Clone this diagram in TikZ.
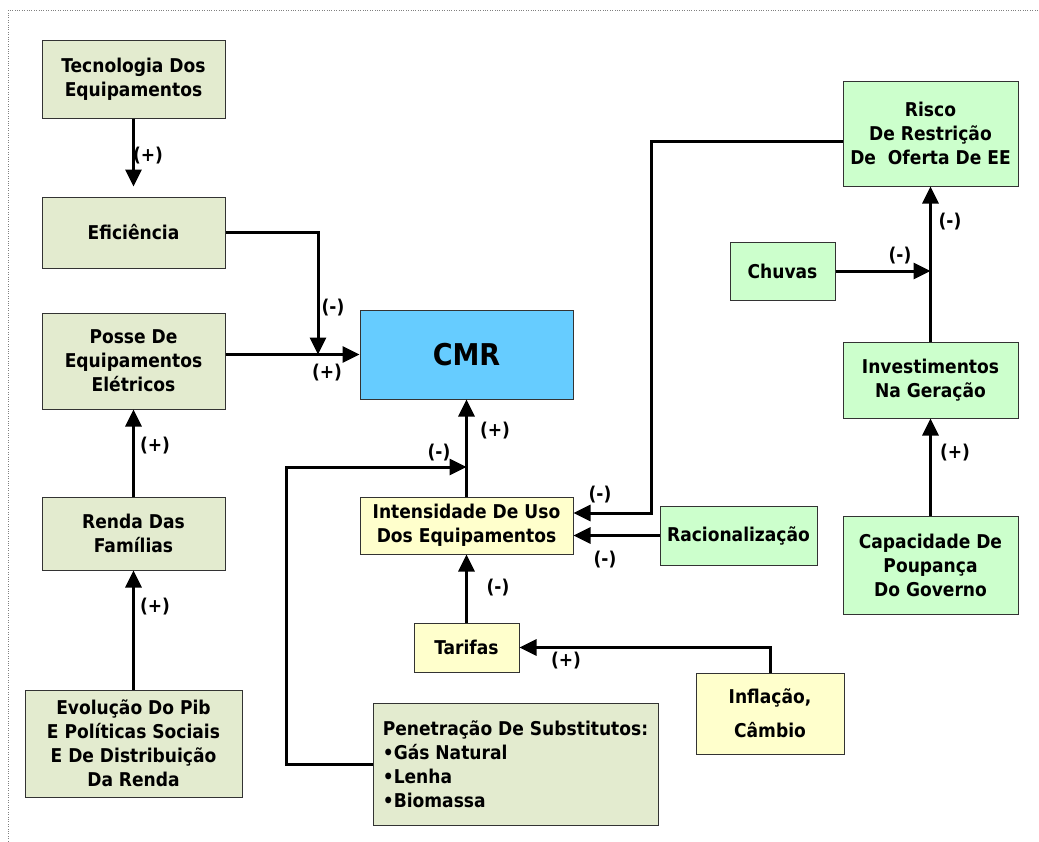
\documentclass[tikz,border=0pt]{standalone}
\usepackage{fontspec}
\setmainfont{DejaVu Sans Condensed}
\usetikzlibrary{arrows.meta}
\definecolor{sage}{RGB}{227,235,207}
\definecolor{mint}{RGB}{204,255,204}
\definecolor{cream}{RGB}{255,255,204}
\definecolor{sky}{RGB}{102,204,255}
\tikzset{
  box/.style={draw=black!80, line width=1pt, align=center, inner sep=0pt,
    font=\bfseries\fontsize{19}{24}\selectfont},
  sagebox/.style={box, fill=sage},
  mintbox/.style={box, fill=mint},
  creambox/.style={box, fill=cream},
  link/.style={line width=3pt},
  arr/.style={line width=3pt, -{Triangle[length=17pt,width=16pt]}},
  sign/.style={font=\bfseries\fontsize{19}{22}\selectfont}
}

\begin{document}
\begin{tikzpicture}[x=1pt, y=-1pt]
\useasboundingbox (0,0) rectangle (1039,841);
\draw [gray, dotted] (8,841) -- (8,10) -- (1039,10);

% left column
\node (tec) at (133.5,79) [sagebox, minimum width=183, minimum height=78] {Tecnologia Dos\\Equipamentos};
\node (efic) at (133.5,232.5) [sagebox, minimum width=183, minimum height=71] {Eficiência};
\node (posse) at (133.5,361) [sagebox, minimum width=183, minimum height=96] {Posse De\\Equipamentos\\Elétricos};
\node (renda) at (133.5,533.5) [sagebox, minimum width=183, minimum height=73] {Renda Das\\Famílias};
\node (evol) at (133.5,743.5) [sagebox, minimum width=217, minimum height=107] {Evolução Do Pib\\E Políticas Sociais\\E De Distribuição\\Da Renda};

% middle
\node (cmr) at (466.5,354.5) [box, fill=sky, minimum width=213, minimum height=89, font=\bfseries\fontsize{30}{33}\selectfont] {CMR};
\node (intens) at (466.5,525.5) [creambox, minimum width=213, minimum height=57] {Intensidade De Uso\\Dos Equipamentos};
\node (tarifas) at (466.5,647.5) [creambox, minimum width=105, minimum height=49] {Tarifas};
\node (infl) at (770,713.5) [creambox, minimum width=148, minimum height=81] {Inflação,\\[10pt]Câmbio};
\node (penet) at (515.5,764) [sagebox, minimum width=285, minimum height=122, align=left] {Penetração De Substitutos:\\•Gás Natural\\•Lenha\\•Biomassa};
\node (racio) at (738.5,535.5) [mintbox, minimum width=157, minimum height=59] {Racionalização};

% right column
\node (risco) at (930.5,133.5) [mintbox, minimum width=175, minimum height=105] {Risco\\De Restrição\\De\ \ Oferta De EE};
\node (chuvas) at (782.5,271) [mintbox, minimum width=105, minimum height=58] {Chuvas};
\node (invest) at (930.5,380) [mintbox, minimum width=175, minimum height=76] {Investimentos\\Na Geração};
\node (capac) at (930.5,565) [mintbox, minimum width=175, minimum height=98] {Capacidade De\\Poupança\\Do Governo};

\coordinate (j1) at (318,354.5);
\coordinate (j2) at (466.5,467);
\coordinate (j3) at (930.5,271);

\draw [arr, shorten >=10pt] (tec) -- (efic);
\draw [arr] (efic.east) -| (j1);
\draw [arr] (posse.east |- cmr.west) -- (cmr.west);
\draw [arr] (renda) -- (posse);
\draw [arr] (evol) -- (renda);
\draw [arr] (intens) -- (cmr);
\draw [arr] (penet.west) -- ++(-86,0) |- (j2);
\draw [arr] (tarifas) -- (intens);
\draw [arr] (infl.north) |- (tarifas.east);
\draw [arr] (racio.west) -- (racio.west -| intens.east);
\draw [arr] ([yshift=-8pt]risco.west) -- ++(-191,0) |- ([yshift=12.5pt]intens.east);
\draw [arr] (chuvas.east) -- (j3);
\draw [arr] (invest) -- (risco);
\draw [arr] (capac) -- (invest);

\node (s1) at (148,156) [sign] {(+)};
\node (s2) at (333,308) [sign] {(-)};
\node (s3) at (327,373) [sign] {(+)};
\node (s4) at (155,446) [sign] {(+)};
\node (s5) at (155,607) [sign] {(+)};
\node (s6) at (495,431) [sign] {(+)};
\node (s7) at (439,453) [sign] {(-)};
\node (s8) at (498,588) [sign] {(-)};
\node (s9) at (566,661) [sign] {(+)};
\node (s10) at (605,560) [sign] {(-)};
\node (s11) at (600,495) [sign] {(-)};
\node (s12) at (900,256) [sign] {(-)};
\node (s13) at (950,222) [sign] {(-)};
\node (s14) at (955,453) [sign] {(+)};
\end{tikzpicture}
\end{document}
